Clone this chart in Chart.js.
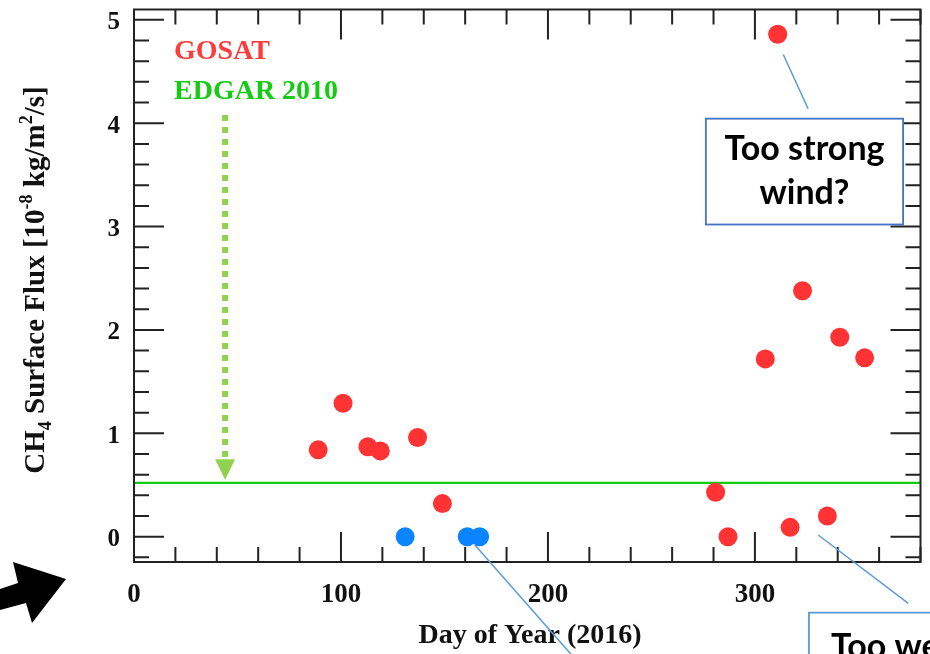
<!DOCTYPE html>
<html>
<head>
<meta charset="utf-8">
<script src="https://cdn.jsdelivr.net/npm/chart.js@4/dist/chart.umd.min.js"></script>
<style>
  html, body { margin: 0; padding: 0; background: #fff; }
  #wrap { width: 930px; height: 654px; position: relative; }
</style>
</head>
<body>
<div id="wrap"><canvas id="chart"></canvas></div>
<script>
// data
const gosatDay  = [89, 101, 113, 119, 137, 149, 281, 287, 305, 311, 317, 323, 335, 341, 353];
const gosatFlux = [0.84, 1.29, 0.87, 0.83, 0.96, 0.32, 0.43, 0.0, 1.72, 4.86, 0.09, 2.38, 0.20, 1.93, 1.73];
const zeroDay   = [131, 161, 167];
const zeroFlux  = [0, 0, 0];
const edgarFlux = 0.52;
const xTicks = [0, 100, 200, 300];
const yTicks = [0, 1, 2, 3, 4, 5];
const xRange = [0, 380];
const yRange = [-0.245, 5.1];

const SERIF = "'Liberation Serif', 'Times New Roman', serif";
const SANS = "Lato, 'Open Sans', sans-serif";

const pts = (xs, ys) => xs.map((x, i) => ({x: x, y: ys[i]}));

// everything that is not a data mark: frame, ticks, labels, notes
const decor = {
  id: 'decor',
  afterDraw(chart) {
    const ctx = chart.ctx;
    const xs = chart.scales.x, ys = chart.scales.y;
    const a = chart.chartArea;
    const px = v => xs.getPixelForValue(v);
    const py = v => ys.getPixelForValue(v);
    ctx.save();

    // edgar arrow (dotted, pointing down to the line)
    const ax = px(44);
    ctx.strokeStyle = '#92d050';
    ctx.lineWidth = 6;
    ctx.setLineDash([6, 6]);
    ctx.beginPath();
    ctx.moveTo(ax, py(4.08));
    ctx.lineTo(ax, py(0.77));
    ctx.stroke();
    ctx.setLineDash([]);
    ctx.fillStyle = '#92d050';
    ctx.beginPath();
    ctx.moveTo(ax - 10, py(0.75));
    ctx.lineTo(ax + 10, py(0.75));
    ctx.lineTo(ax, py(0.55));
    ctx.closePath();
    ctx.fill();

    // frame
    ctx.strokeStyle = '#222';
    ctx.lineWidth = 2;
    ctx.strokeRect(a.left, a.top, a.right - a.left, a.bottom - a.top);

    // inward ticks on all sides
    ctx.beginPath();
    for (let v = 0; v <= xRange[1]; v += 20) {
      const len = v % 100 === 0 ? 30 : 15, x = px(v);
      ctx.moveTo(x, a.bottom); ctx.lineTo(x, a.bottom - len);
      ctx.moveTo(x, a.top); ctx.lineTo(x, a.top + len);
    }
    for (let k = -1; k <= 25; k++) {
      const v = k * 0.2, len = k % 5 === 0 ? 30 : 15, y = py(v);
      ctx.moveTo(a.left, y); ctx.lineTo(a.left + len, y);
      ctx.moveTo(a.right, y); ctx.lineTo(a.right - len, y);
    }
    ctx.stroke();

    // tick labels
    ctx.fillStyle = '#111';
    ctx.font = 'bold 27px ' + SERIF;
    ctx.textAlign = 'center';
    ctx.textBaseline = 'alphabetic';
    xTicks.forEach(v => ctx.fillText(String(v), px(v), 602));
    ctx.font = 'bold 25px ' + SERIF;
    ctx.textAlign = 'right';
    ctx.textBaseline = 'middle';
    yTicks.forEach(v => ctx.fillText(String(v), 120, py(v) + 3));

    // x title
    ctx.font = 'bold 28px ' + SERIF;
    ctx.textAlign = 'center';
    ctx.textBaseline = 'alphabetic';
    ctx.fillText('Day of Year (2016)', 530, 643);

    // y title, rotated, with sub/superscripts
    const parts = [
      ['CH', 29, 0], ['4', 18, 7], [' Surface Flux [10', 29, 0], ['-8', 18, -12],
      [' kg/m', 29, 0], ['2', 18, -12], ['/s]', 29, 0]
    ];
    ctx.save();
    ctx.translate(44, 280);
    ctx.rotate(-Math.PI / 2);
    ctx.textAlign = 'left';
    let total = 0;
    parts.forEach(p => { ctx.font = 'bold ' + p[1] + 'px ' + SERIF; total += ctx.measureText(p[0]).width; });
    let cx = -total / 2;
    parts.forEach(p => {
      ctx.font = 'bold ' + p[1] + 'px ' + SERIF;
      ctx.fillText(p[0], cx, p[2]);
      cx += ctx.measureText(p[0]).width;
    });
    ctx.restore();

    // legend text
    ctx.textAlign = 'left';
    ctx.font = 'bold 28px ' + SERIF;
    ctx.fillStyle = '#ff3b3b';
    ctx.fillText('GOSAT', 174, 59);
    ctx.fillStyle = '#14cc14';
    ctx.fillText('EDGAR 2010', 174, 99);

    // callout lines
    ctx.strokeStyle = '#5b9bd5';
    ctx.lineWidth = 1.5;
    const seg = (x1, y1, x2, y2) => { ctx.beginPath(); ctx.moveTo(px(x1), py(y1)); ctx.lineTo(px(x2), py(y2)); ctx.stroke(); };
    seg(313.7, 4.665, 325.7, 4.14);
    seg(330.6, 0.016, 374.1, -0.646);
    seg(164.7, -0.08, 213.9, -1.2);

    // callout boxes
    ctx.fillStyle = '#fff';
    ctx.strokeStyle = '#4472c4';
    ctx.lineWidth = 1.8;
    const bx = px(276.3), by = py(4.044), bw = px(371.6) - bx, bh = py(3.02) - by;
    ctx.fillRect(bx, by, bw, bh);
    ctx.strokeRect(bx, by, bw, bh);
    ctx.strokeStyle = '#5b9bd5';
    const cx2 = px(326.1), cy2 = py(-0.735);
    ctx.fillRect(cx2, cy2, 200, 100);
    ctx.strokeRect(cx2, cy2, 200, 100);

    ctx.fillStyle = '#000';
    ctx.font = 'bold 34px ' + SANS;
    ctx.textAlign = 'center';
    ctx.fillText('Too strong', bx + bw / 2, 160);
    ctx.fillText('wind?', bx + bw / 2, 204);
    ctx.textAlign = 'left';
    ctx.fillText('Too weak', cx2 + 22, 658);

    // black pointer arrow at lower left
    ctx.fillStyle = '#000';
    ctx.beginPath();
    ctx.moveTo(0, 589); ctx.lineTo(18, 583); ctx.lineTo(13, 562); ctx.lineTo(66, 579);
    ctx.lineTo(32, 623); ctx.lineTo(26, 603); ctx.lineTo(0, 610);
    ctx.closePath();
    ctx.fill();

    ctx.restore();
  }
};

new Chart(document.getElementById('chart'), {
  type: 'scatter',
  data: {
    datasets: [
      {
        label: 'GOSAT',
        data: pts(gosatDay, gosatFlux),
        backgroundColor: '#ff3333',
        borderWidth: 0,
        pointRadius: 9.5
      },
      {
        label: 'GOSAT (zero)',
        data: pts(zeroDay, zeroFlux),
        backgroundColor: '#0a84ff',
        borderWidth: 0,
        pointRadius: 9.5
      },
      {
        label: 'EDGAR 2010',
        type: 'line',
        data: [{x: xRange[0], y: edgarFlux}, {x: xRange[1], y: edgarFlux}],
        borderColor: '#11cc11',
        borderWidth: 2.2,
        pointRadius: 0
      }
    ]
  },
  options: {
    responsive: true,
    maintainAspectRatio: false,
    animation: false,
    layout: { padding: { left: 134, top: 6, right: 9, bottom: 92 } },
    plugins: { legend: { display: false }, tooltip: { enabled: false } },
    scales: {
      x: { type: 'linear', display: false, min: xRange[0], max: xRange[1] },
      y: { type: 'linear', display: false, min: yRange[0], max: yRange[1] }
    }
  },
  plugins: [decor]
});
</script>
</body>
</html>
